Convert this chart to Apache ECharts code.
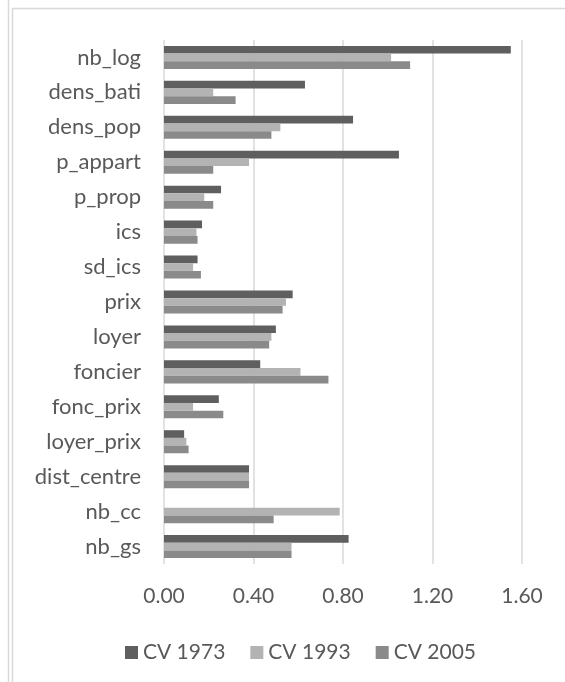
<!DOCTYPE html>
<html>
<head>
<meta charset="utf-8">
<script src="https://cdn.jsdelivr.net/npm/echarts@6/dist/echarts.min.js"></script>
<style>
  html, body { margin: 0; padding: 0; background: #fff; }
  #chart { width: 565px; height: 682px; }
</style>
</head>
<body>
<div id="chart"></div>
<script>
// variables, top to bottom
const categories = ['nb_log', 'dens_bati', 'dens_pop', 'p_appart', 'p_prop', 'ics', 'sd_ics',
  'prix', 'loyer', 'foncier', 'fonc_prix', 'loyer_prix', 'dist_centre', 'nb_cc', 'nb_gs'];
const cv1973 = [1.55, 0.63, 0.845, 1.05, 0.255, 0.17, 0.15, 0.575, 0.50, 0.43, 0.245, 0.09, 0.38, 0, 0.825];
const cv1993 = [1.015, 0.22, 0.52, 0.38, 0.18, 0.145, 0.13, 0.545, 0.48, 0.61, 0.13, 0.10, 0.38, 0.785, 0.57];
const cv2005 = [1.10, 0.32, 0.48, 0.22, 0.22, 0.15, 0.165, 0.53, 0.47, 0.735, 0.265, 0.11, 0.38, 0.49, 0.57];
const seriesNames = ['CV 1973', 'CV 1993', 'CV 2005'];
const colors = ['#5f5f5f', '#b3b3b3', '#8a8a8a'];

const font = 'Lato, "Open Sans", sans-serif';
const textColor = '#595959';

function barSeries(name, data) {
  return {
    name: name,
    type: 'bar',
    data: data,
    barGap: '0%',
    barCategoryGap: '34%'
  };
}

const chart = echarts.init(document.getElementById('chart'));
chart.setOption({
  backgroundColor: '#fff',
  color: colors,
  animation: false,
  textStyle: { fontFamily: font },
  graphic: [
    { type: 'line', shape: { x1: 8.5, y1: 0, x2: 8.5, y2: 682 }, style: { stroke: '#d9d9d9', lineWidth: 1.5 } },
    { type: 'rect', shape: { x: 12.5, y: 8.5, width: 600, height: 700 }, style: { fill: 'none', stroke: '#d9d9d9', lineWidth: 1.5 } }
  ],
  grid: { left: 164, right: 43, top: 40, bottom: 118 },
  legend: {
    data: seriesNames,
    left: 120,
    top: 637,
    icon: 'rect',
    itemWidth: 13,
    itemHeight: 13,
    itemGap: 25,
    textStyle: { color: textColor, fontSize: 21, fontFamily: font }
  },
  xAxis: {
    type: 'value',
    min: 0,
    max: 1.6,
    interval: 0.4,
    axisLine: { show: false },
    axisTick: { show: false },
    splitLine: { lineStyle: { color: '#d9d9d9', width: 1.5 } },
    axisLabel: {
      color: textColor, fontSize: 21, fontFamily: font, margin: 22,
      formatter: v => v.toFixed(2)
    }
  },
  yAxis: {
    type: 'category',
    data: categories,
    inverse: true,
    axisLine: { show: false },
    axisTick: { show: false },
    axisLabel: { color: textColor, fontSize: 22, fontFamily: font, margin: 23 }
  },
  series: [
    barSeries(seriesNames[0], cv1973),
    barSeries(seriesNames[1], cv1993),
    barSeries(seriesNames[2], cv2005)
  ]
});
</script>
</body>
</html>
